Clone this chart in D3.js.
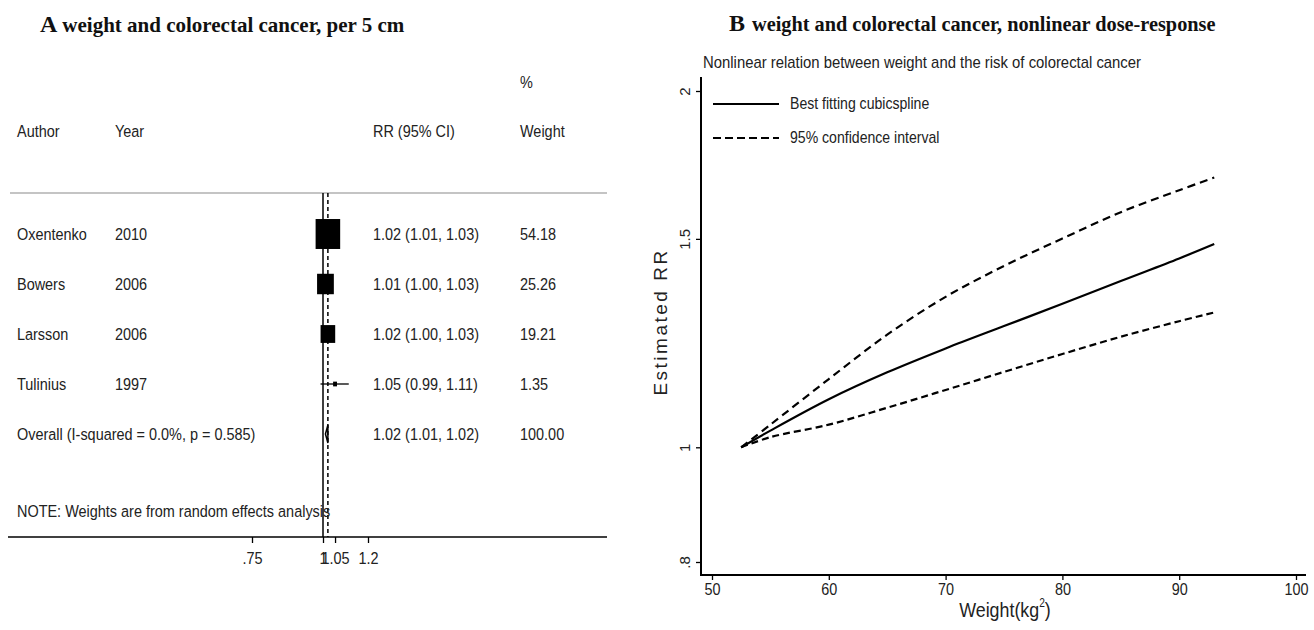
<!DOCTYPE html>
<html>
<head>
<meta charset="utf-8">
<script src="https://cdn.jsdelivr.net/npm/d3@7"></script>
<style>
  body { margin: 0; background: #fff; }
  svg { display: block; }
  .sans { font-family: "Liberation Sans", Arial, sans-serif; fill: #222; }
  .serif { font-family: "Liberation Serif", "Times New Roman", serif; font-weight: bold; fill: #111; }
</style>
</head>
<body>
<script>
// ---- panel A data (forest plot) ----
const authors = ['Oxentenko', 'Bowers', 'Larsson', 'Tulinius'];
const years = ['2010', '2006', '2006', '1997'];
const rrVals = [1.02, 1.01, 1.02, 1.05];
const rrLow = [1.01, 1.00, 1.00, 0.99];
const rrHigh = [1.03, 1.03, 1.03, 1.11];
const weights = [54.18, 25.26, 19.21, 1.35];
const overall = {rr: 1.02, lo: 1.01, hi: 1.02, weight: 100.00, label: 'Overall  (I-squared = 0.0%, p = 0.585)'};
const forestTicks = [0.75, 1, 1.05, 1.2];
const forestTickLabels = ['.75', '1', '1.05', '1.2'];

// ---- panel B data (dose-response) ----
const weightKg = [52.5, 55, 60, 65, 70, 75, 80, 85, 90, 93];
const rrSpline = [1.0, 1.033, 1.098, 1.157, 1.212, 1.266, 1.322, 1.382, 1.444, 1.485];
const rrUpper = [1.0, 1.045, 1.142, 1.245, 1.340, 1.423, 1.501, 1.580, 1.649, 1.690];
const rrLower = [1.0, 1.020, 1.045, 1.080, 1.118, 1.158, 1.199, 1.240, 1.278, 1.300];
const xTicksB = [50, 60, 70, 80, 90, 100];
const yTicksB = [0.8, 1, 1.5, 2];
const yTickLabelsB = ['.8', '1', '1.5', '2'];

const width = 1314, height = 630;

let svg = d3.select('body').append('svg')
    .attr('width', width)
    .attr('height', height);

// condensed text: the source figure is squeezed horizontally
function label(parent, x, y, str, size, sx, anchor) {
    return parent.append('text')
        .attr('class', 'sans')
        .attr('font-size', size)
        .attr('text-anchor', anchor || 'start')
        .attr('transform', `translate(${x},${y}) scale(${sx},1)`)
        .text(str);
}

// ================= Panel A =================
let gA = svg.append('g').attr('id', 'panelA');

let titleA = gA.append('text').attr('class', 'serif').attr('x', 40).attr('y', 32);
titleA.append('tspan').attr('font-size', 24).text('A');
titleA.append('tspan').attr('font-size', 21).attr('dx', 5).text('weight and colorectal cancer, per 5 cm');

let xF = d3.scaleLog().domain([0.75, 1.2]).range([252, 368]);
let rowY = d3.scaleLinear().domain([0, 4]).range([234, 434]);

const colAuthor = 17, colYear = 115, colRR = 373, colW = 520;
const fs = 17, sq = 0.85;

// header
label(gA, colW, 88, '%', fs, sq);
[['Author', colAuthor], ['Year', colYear], ['RR (95% CI)', colRR], ['Weight', colW]].forEach(h => {
    label(gA, h[1], 137, h[0], fs, sq);
});

gA.append('line')
    .attr('x1', 10).attr('x2', 607).attr('y1', 193).attr('y2', 193)
    .attr('stroke', '#b0b0b0').attr('stroke-width', 1.5);

// null line and overall line
gA.append('line')
    .attr('x1', xF(1)).attr('x2', xF(1)).attr('y1', 193).attr('y2', 537)
    .attr('stroke', '#000').attr('stroke-width', 1.5);
gA.append('line')
    .attr('x1', xF(overall.rr)).attr('x2', xF(overall.rr)).attr('y1', 193).attr('y2', 537)
    .attr('stroke', '#000').attr('stroke-width', 1.5).attr('stroke-dasharray', '4,3');

let studyData = authors.map((a, i) => ({
    author: a, year: years[i], rr: rrVals[i], lo: rrLow[i], hi: rrHigh[i], w: weights[i], row: i
}));

let rowsG = gA.append('g').attr('id', 'rows');

// CI lines
rowsG.selectAll('line.ci')
    .data(studyData)
    .join('line')
    .attr('class', 'ci')
    .attr('x1', d => xF(d.lo)).attr('x2', d => xF(d.hi))
    .attr('y1', d => rowY(d.row)).attr('y2', d => rowY(d.row))
    .attr('stroke', '#000').attr('stroke-width', 1.3);

// weight boxes (area ~ weight)
const boxK = 4.07;
rowsG.selectAll('rect.box')
    .data(studyData)
    .join('rect')
    .attr('class', 'box')
    .attr('x', d => xF(d.rr) - boxK * Math.sqrt(d.w) * 0.82 / 2)
    .attr('y', d => rowY(d.row) - boxK * Math.sqrt(d.w) / 2)
    .attr('width', d => Math.max(boxK * Math.sqrt(d.w) * 0.82, 3))
    .attr('height', d => Math.max(boxK * Math.sqrt(d.w), 3))
    .attr('fill', '#000');

// text columns
studyData.forEach(d => {
    let ty = rowY(d.row) + 6;
    label(rowsG, colAuthor, ty, d.author, fs, sq);
    label(rowsG, colYear, ty, d.year, fs, sq);
    label(rowsG, colRR, ty, `${d.rr.toFixed(2)} (${d.lo.toFixed(2)}, ${d.hi.toFixed(2)})`, fs, sq);
    label(rowsG, colW, ty, d.w.toFixed(2), fs, sq);
});

// overall diamond
let oy = rowY(4);
gA.append('polygon')
    .attr('points', [[xF(overall.lo), oy], [xF(overall.rr), oy - 9], [xF(overall.hi), oy], [xF(overall.rr), oy + 9]].join(' '))
    .attr('fill', 'none').attr('stroke', '#000').attr('stroke-width', 1.5);
label(gA, colAuthor, oy + 6, overall.label, fs, sq);
label(gA, colRR, oy + 6, `${overall.rr.toFixed(2)} (${overall.lo.toFixed(2)}, ${overall.hi.toFixed(2)})`, fs, sq);
label(gA, colW, oy + 6, overall.weight.toFixed(2), fs, sq);

label(gA, colAuthor, 517, 'NOTE: Weights are from random effects analysis', fs, sq);

// forest axis
gA.append('line')
    .attr('x1', 8).attr('x2', 607).attr('y1', 537).attr('y2', 537)
    .attr('stroke', '#000').attr('stroke-width', 1.5);
let axA = gA.append('g')
    .attr('transform', 'translate(0,537)')
    .call(d3.axisBottom(xF).tickValues(forestTicks).tickSize(6).tickPadding(9)
        .tickFormat((d, i) => forestTickLabels[i]));
axA.select('.domain').remove();
axA.selectAll('line').attr('stroke', '#000').attr('stroke-width', 1.3);
axA.selectAll('text')
    .attr('font-family', '"Liberation Sans", Arial, sans-serif')
    .attr('font-size', fs).attr('fill', '#222')
    .attr('transform', `scale(${sq},1)`)
    .attr('x', function() { return 0; });

// ================= Panel B =================
let gB = svg.append('g').attr('id', 'panelB');

let titleB = gB.append('text').attr('class', 'serif').attr('x', 729).attr('y', 31);
titleB.append('tspan').attr('font-size', 24).text('B');
titleB.append('tspan').attr('font-size', 20.3).attr('dx', 7).text('weight and colorectal cancer, nonlinear dose-response');

label(gB, 703, 68, 'Nonlinear relation between weight and the risk of colorectal cancer', 16, 0.93);

let xB = d3.scaleLinear().domain([50, 100]).range([712, 1296]);
let yB = d3.scaleLog().domain([0.8, 2]).range([562, 91]);

const axisX = 701, axisY = 575;

gB.append('line')
    .attr('x1', axisX).attr('x2', axisX).attr('y1', 77).attr('y2', axisY + 1)
    .attr('stroke', '#000').attr('stroke-width', 2);
gB.append('line')
    .attr('x1', axisX - 1).attr('x2', 1306).attr('y1', axisY).attr('y2', axisY)
    .attr('stroke', '#000').attr('stroke-width', 2);

let axYB = gB.append('g')
    .attr('transform', `translate(${axisX},0)`)
    .call(d3.axisLeft(yB).tickValues(yTicksB).tickSize(5)
        .tickFormat((d, i) => yTickLabelsB[i]));
axYB.select('.domain').remove();
axYB.selectAll('line').attr('stroke', '#000').attr('stroke-width', 1.3);
axYB.selectAll('text')
    .attr('x', null).attr('dy', null)
    .attr('text-anchor', 'middle')
    .attr('transform', 'translate(-11,0) rotate(-90)')
    .attr('font-family', '"Liberation Sans", Arial, sans-serif')
    .attr('font-size', 15).attr('fill', '#222');

let axXB = gB.append('g')
    .attr('transform', `translate(0,${axisY})`)
    .call(d3.axisBottom(xB).tickValues(xTicksB).tickSize(5).tickPadding(4));
axXB.select('.domain').remove();
axXB.selectAll('line').attr('stroke', '#000').attr('stroke-width', 1.3);
axXB.selectAll('text')
    .attr('font-family', '"Liberation Sans", Arial, sans-serif')
    .attr('font-size', 16).attr('fill', '#222')
    .attr('transform', 'scale(0.9,1)');

// axis titles
gB.append('text').attr('class', 'sans').attr('font-size', 19)
    .attr('letter-spacing', 2.5)
    .attr('text-anchor', 'middle')
    .attr('transform', 'translate(667,322) rotate(-90)')
    .text('Estimated RR');

let xt = gB.append('text').attr('class', 'sans').attr('font-size', 21)
    .attr('text-anchor', 'middle')
    .attr('transform', 'translate(1005,617) scale(0.85,1)');
xt.append('tspan').text('Weight(kg');
xt.append('tspan').attr('font-size', 12).attr('dy', -10).text('2');
xt.append('tspan').attr('dy', 10).text(')');

// curves
let lineGen = (vals) => d3.line()
    .x((d, i) => xB(weightKg[i]))
    .y(d => yB(d))
    .curve(d3.curveCatmullRom.alpha(0.5))(vals);

gB.append('path').attr('d', lineGen(rrSpline))
    .attr('fill', 'none').attr('stroke', '#000').attr('stroke-width', 2.2);
gB.append('path').attr('d', lineGen(rrUpper))
    .attr('fill', 'none').attr('stroke', '#000').attr('stroke-width', 2.2)
    .attr('stroke-dasharray', '8,5');
gB.append('path').attr('d', lineGen(rrLower))
    .attr('fill', 'none').attr('stroke', '#000').attr('stroke-width', 2.2)
    .attr('stroke-dasharray', '7,4');

// legend
let leg = gB.append('g').attr('id', 'legend');
leg.append('line').attr('x1', 713).attr('x2', 779).attr('y1', 104).attr('y2', 104)
    .attr('stroke', '#000').attr('stroke-width', 2.2);
label(leg, 790, 109, 'Best fitting cubicspline', 16, 0.88);
leg.append('line').attr('x1', 713).attr('x2', 779).attr('y1', 138).attr('y2', 138)
    .attr('stroke', '#000').attr('stroke-width', 2.2).attr('stroke-dasharray', '8,4');
label(leg, 790, 143, '95% confidence interval', 16, 0.88);
</script>
</body>
</html>
